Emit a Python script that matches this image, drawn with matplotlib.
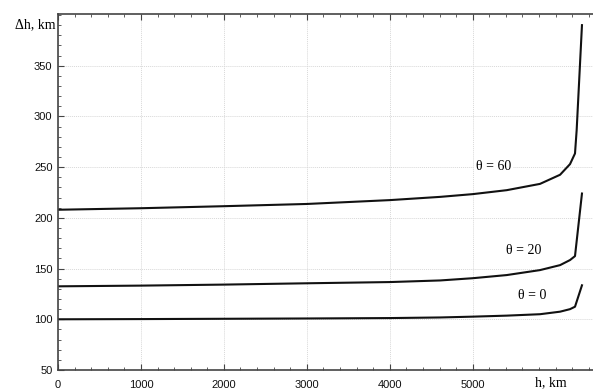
import matplotlib
matplotlib.use("Agg")
import matplotlib.pyplot as plt
from matplotlib.ticker import MultipleLocator

h = [0, 1000, 2000, 3000, 4000, 4608, 5000, 5410, 5811, 6053, 6173, 6233, 6317]
dh_0 = [100, 100.2, 100.5, 100.8, 101.2, 101.8, 102.6, 103.6, 105, 107.5, 110, 112.4, 133.5]
dh_20 = [132.5, 133.2, 134.2, 135.5, 136.7, 138.3, 140.5, 143.6, 148.5, 153.4, 158.4, 162.3, 224]
h_60 = [0, 1000, 2000, 3000, 4000, 4608, 5000, 5410, 5811, 6053, 6173, 6233, 6253, 6317]
dh_60 = [208, 209.5, 211.5, 213.7, 217.5, 220.7, 223.4, 227.3, 233.5, 242.5, 253, 263.5, 286.5, 390]

labels = ["θ = 0", "θ = 20", "θ = 60"]
label_pos_h = [5718, 5609, 5247]
label_pos_v = [123, 168, 251]

fig = plt.figure(figsize=(5.93, 3.92), dpi=100)
ax = fig.add_axes([58/593, 22/392, 535/593, 356/392])

for xs, ys in ((h, dh_0), (h, dh_20), (h_60, dh_60)):
    ax.plot(xs, ys, color="#111111", lw=1.5, solid_joinstyle="round")

for t, x, y in zip(labels, label_pos_h, label_pos_v):
    ax.text(x, y, t, family="Liberation Serif", fontsize=10, ha="center", va="center",
            bbox=dict(facecolor="white", edgecolor="none", pad=1.5), zorder=3)

ax.set_xlim(0, 6450)
ax.set_ylim(50, 401)
ax.set_xticks([0, 1000, 2000, 3000, 4000, 5000])
ax.set_yticks([50, 100, 150, 200, 250, 300, 350])
ax.xaxis.set_minor_locator(MultipleLocator(200))
ax.yaxis.set_minor_locator(MultipleLocator(10))
ax.tick_params(which="both", direction="in", top=True, right=False, color="#444444")
ax.tick_params(which="major", length=4, width=0.8)
ax.tick_params(which="minor", length=2.5, width=0.6)
ax.tick_params(axis="x", pad=7)
ax.tick_params(axis="y", pad=4)
for lab in ax.get_xticklabels() + ax.get_yticklabels():
    lab.set_family("Liberation Sans")
    lab.set_fontsize(8)
    lab.set_color("#111111")

ax.grid(True, which="major", color="#d8d8d8", lw=0.7, ls=(0, (1, 1)))
ax.set_axisbelow(True)
for s in ("left", "bottom", "top"):
    ax.spines[s].set_color("#444444")
    ax.spines[s].set_linewidth(1.2)
ax.spines["right"].set_visible(False)

fig.text(35/593, 1 - 25/392, "Δh, km", family="Liberation Serif", fontsize=10, ha="center", va="center")
fig.text(551/593, 1 - 383/392, "h, km", family="Liberation Serif", fontsize=10, ha="center", va="center")

fig.savefig("out.png", dpi=100, facecolor="white")
